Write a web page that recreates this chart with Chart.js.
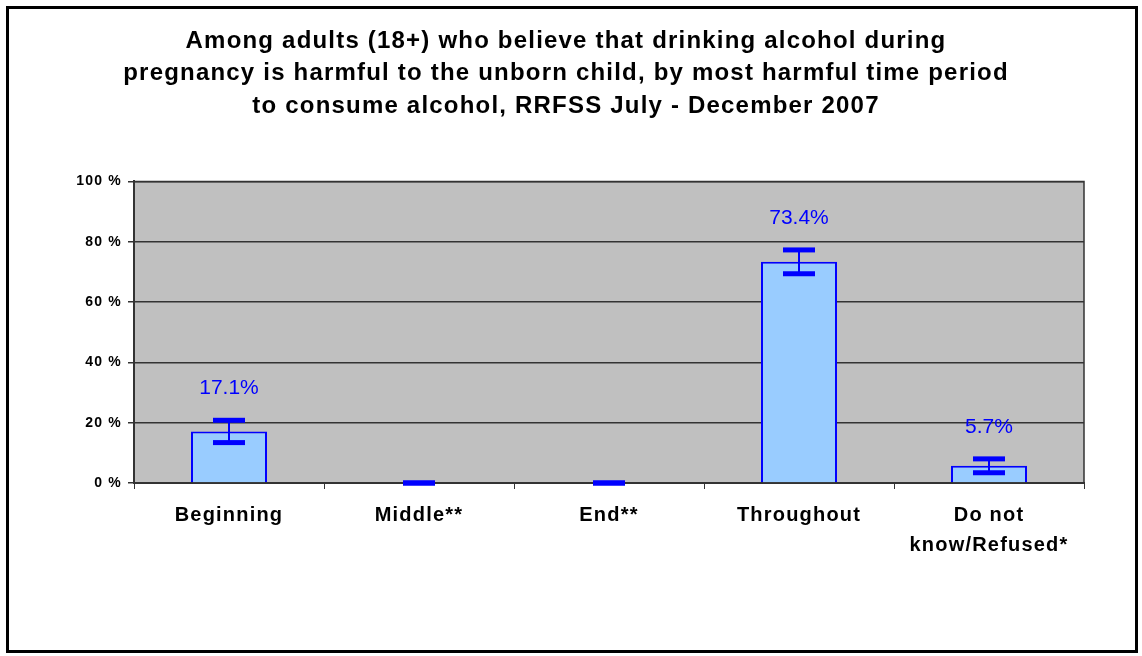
<!DOCTYPE html>
<html lang="en">
<head>
    <meta charset="UTF-8">
    <title>Harmful time period to consume alcohol</title>
    <script src="https://cdn.jsdelivr.net/npm/chart.js"></script>
    <style>
        body { margin: 0; background: #fff; }
        #wrap { width: 1142px; height: 656px; position: relative; }
    </style>
</head>
<body>
    <div id="wrap"><canvas id="myChart" width="1142" height="656"></canvas></div>

    <script>
        const categories = ['Beginning', 'Middle**', 'End**', 'Throughout', ['Do not', 'know/Refused*']];
        const percents = [17.1, 0, 0, 73.4, 5.7];
        const ciLow = [13.4, 0, 0, 69.4, 3.4];
        const ciHigh = [20.8, 0, 0, 77.3, 8.0];
        const valueLabels = ['17.1%', '', '', '73.4%', '5.7%'];
        const yTicks = [0, 20, 40, 60, 80, 100];

        const titleLines = [
            'Among adults (18+) who believe that drinking alcohol during',
            'pregnancy is harmful to the unborn child, by most harmful time period',
            'to consume alcohol, RRFSS July - December 2007'
        ];

        const FONT = '"Liberation Sans", Arial, sans-serif';

        // the old Excel export has loose letter spacing on every label
        const spacing = {
            id: 'spacing',
            beforeInit(chart) { chart.ctx.letterSpacing = '1.2px'; },
            beforeDraw(chart) { chart.ctx.letterSpacing = '1.2px'; }
        };

        // gray plot area + outer frame
        const backdrop = {
            id: 'backdrop',
            beforeDraw(chart) {
                const { ctx, chartArea: a } = chart;
                ctx.save();
                ctx.fillStyle = '#fff';
                ctx.fillRect(0, 0, chart.width, chart.height);
                ctx.strokeStyle = '#000';
                ctx.lineWidth = 3;
                ctx.strokeRect(7.5, 7.5, chart.width - 13, chart.height - 12);
                ctx.fillStyle = '#c0c0c0';
                ctx.fillRect(a.left, a.top, a.right - a.left, a.bottom - a.top);
                ctx.restore();
            },
            afterDatasetsDraw(chart) {
                const { ctx, chartArea: a } = chart;
                ctx.save();
                ctx.strokeStyle = '#333';
                ctx.lineWidth = 1.5;
                ctx.beginPath();
                ctx.moveTo(a.left, a.top);
                ctx.lineTo(a.right, a.top);
                ctx.lineTo(a.right, a.bottom);
                ctx.stroke();
                ctx.restore();
            }
        };

        // confidence interval whiskers and value labels
        const errorBars = {
            id: 'errorBars',
            afterDraw(chart) {
                const { ctx } = chart;
                const y = chart.scales.y;
                const meta = chart.getDatasetMeta(0);
                ctx.save();
                ctx.strokeStyle = '#0000ff';
                ctx.fillStyle = '#0000ff';
                meta.data.forEach((bar, i) => {
                    const x = bar.x;
                    const yHi = y.getPixelForValue(ciHigh[i]);
                    const yLo = y.getPixelForValue(ciLow[i]);
                    ctx.lineWidth = 2;
                    ctx.beginPath();
                    ctx.moveTo(x, yHi);
                    ctx.lineTo(x, yLo);
                    ctx.stroke();
                    ctx.lineWidth = 5;
                    [yHi, yLo].forEach(py => {
                        ctx.beginPath();
                        ctx.moveTo(x - 16, py);
                        ctx.lineTo(x + 16, py);
                        ctx.stroke();
                    });
                    if (valueLabels[i]) {
                        ctx.letterSpacing = '0px';
                        ctx.font = '21px ' + FONT;
                        ctx.textAlign = 'center';
                        ctx.textBaseline = 'middle';
                        ctx.fillText(valueLabels[i], x, yHi - 32);
                    }
                });
                ctx.restore();
            }
        };

        new Chart(document.getElementById('myChart').getContext('2d'), {
            type: 'bar',
            data: {
                labels: categories,
                datasets: [{
                    data: percents,
                    backgroundColor: '#99ccff',
                    borderColor: '#0000ff',
                    borderWidth: 2,
                    barPercentage: 0.4,
                    categoryPercentage: 1
                }]
            },
            options: {
                responsive: false,
                animation: false,
                layout: { padding: { top: 14, left: 48, right: 58, bottom: 60 } },
                plugins: {
                    legend: { display: false },
                    tooltip: { enabled: false },
                    title: {
                        display: true,
                        text: titleLines,
                        color: '#000',
                        font: { family: FONT, size: 24, weight: 'bold', lineHeight: 1.354 },
                        padding: { top: 11, bottom: 59 }
                    }
                },
                scales: {
                    x: {
                        grid: {
                            offset: true,
                            drawOnChartArea: false,
                            color: '#333',
                            tickLength: 6
                        },
                        border: { color: '#333', width: 2 },
                        ticks: {
                            color: '#000',
                            padding: 11,
                            maxRotation: 0,
                            font: { family: FONT, size: 20, weight: 'bold', lineHeight: 1.5 }
                        },
                        afterFit(scale) { scale.height = 113; }
                    },
                    y: {
                        min: 0,
                        max: 100,
                        afterBuildTicks(scale) {
                            scale.ticks = yTicks.map(v => ({ value: v }));
                        },
                        grid: { color: '#333', lineWidth: 1.5, tickLength: 6 },
                        border: { color: '#333', width: 2 },
                        ticks: {
                            color: '#000',
                            padding: 6,
                            font: { family: FONT, size: 14, weight: 'bold' },
                            callback: v => v + ' %'
                        },
                        afterFit(scale) { scale.width = 86; }
                    }
                }
            },
            plugins: [spacing, backdrop, errorBars]
        });
    </script>
</body>
</html>
